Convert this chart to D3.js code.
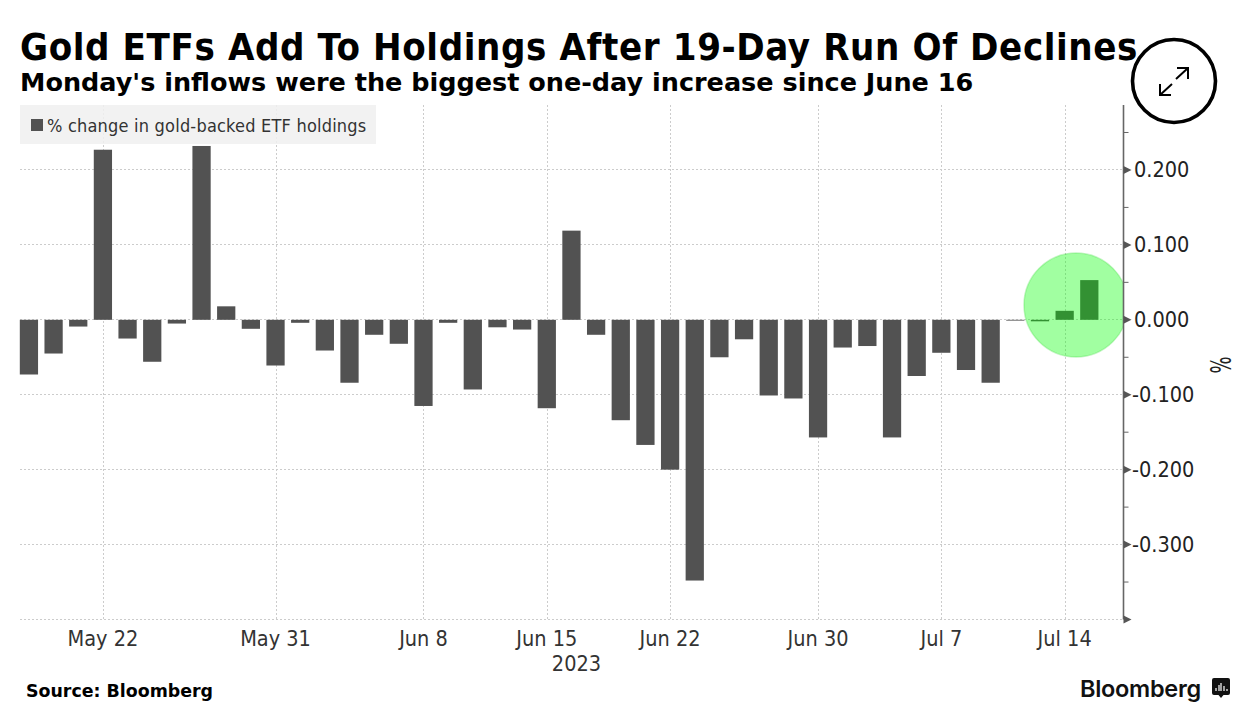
<!DOCTYPE html>
<html><head><meta charset="utf-8">
<script src="https://cdnjs.cloudflare.com/ajax/libs/d3/7.8.5/d3.min.js"></script>
<style>
html,body{margin:0;padding:0;background:#fff}
svg{display:block}
text{font-family:"DejaVu Sans",sans-serif}
text.c{font-family:"DejaVu Sans Condensed","DejaVu Sans",sans-serif;font-stretch:condensed}
text.logo{font-family:"Inter",sans-serif}
</style></head><body>
<svg id="c" width="1256" height="718"></svg>
<script>
const titleText = "Gold ETFs Add To Holdings After 19-Day Run Of Declines";
const subtitleText = "Monday's inflows were the biggest one-day increase since June 16";
const legendText = "% change in gold-backed ETF holdings";
const sourceText = "Source: Bloomberg";
const yearLabel = "2023";
const dates = ["05-17","05-18","05-19","05-22","05-23","05-24","05-25","05-26","05-29","05-30","05-31","06-01","06-02","06-05","06-06","06-07","06-08","06-09","06-12","06-13","06-14","06-15","06-16","06-19","06-20","06-21","06-22","06-23","06-26","06-27","06-28","06-29","06-30","07-03","07-04","07-05","07-06","07-07","07-10","07-11","07-12","07-13","07-14","07-17"];
const values = [-0.073,-0.045,-0.009,0.227,-0.025,-0.056,-0.005,0.232,0.018,-0.012,-0.061,-0.004,-0.041,-0.084,-0.020,-0.032,-0.115,-0.004,-0.093,-0.010,-0.013,-0.118,0.119,-0.020,-0.134,-0.167,-0.200,-0.348,-0.050,-0.026,-0.101,-0.105,-0.157,-0.037,-0.035,-0.157,-0.075,-0.044,-0.067,-0.084,-0.001,-0.002,0.012,0.053];
const xTickDates = ["05-22","05-31","06-08","06-15","06-22","06-30","07-07","07-14"];
const xTickLabels = ["May 22","May 31","Jun 8","Jun 15","Jun 22","Jun 30","Jul 7","Jul 14"];
const yMajor = [0.2,0.1,0,-0.1,-0.2,-0.3];
const yMinor = [0.25,0.15,0.05,-0.05,-0.15,-0.25,-0.35];

const svg = d3.select("#c");
const left = 16.6, right = 1123.5, top_ = 105, bottom = 619.5;
const x = d3.scaleBand().domain(dates).range([left, left + 24.66*dates.length]).paddingInner(0.26).paddingOuter(0.13);
const y = d3.scaleLinear().domain([-0.4, 0.2867]).range([bottom, top_]);

svg.append("defs").append("clipPath").attr("id","plot").append("rect")
  .attr("x",0).attr("y",0).attr("width",right).attr("height",718);

const cx = d => x(d) + x.bandwidth()/2;

// grid
const grid = svg.append("g").attr("stroke","#cccccc").attr("stroke-width",1).attr("stroke-dasharray","2 2");
grid.selectAll(".h").data([...yMajor,-0.4]).join("line")
  .attr("x1",20).attr("x2",right).attr("y1",d=>Math.round(y(d))-.5).attr("y2",d=>Math.round(y(d))-.5);
grid.selectAll(".v").data(xTickDates).join("line")
  .attr("x1",d=>Math.round(cx(d))+.5).attr("x2",d=>Math.round(cx(d))+.5).attr("y1",top_).attr("y2",bottom);

// legend
svg.append("rect").attr("x",20).attr("y",105).attr("width",356).attr("height",39).attr("fill","#f0f0f0").attr("fill-opacity",.85);
svg.append("rect").attr("x",31).attr("y",119).attr("width",12).attr("height",12).attr("fill","#525252");
svg.append("text").attr("class","c").attr("x",47).attr("y",132).attr("font-size",18).attr("letter-spacing",.2).attr("fill","#333").text(legendText);

// bars
svg.append("g").attr("fill","#525252").selectAll("rect").data(dates).join("rect")
  .attr("x",d=>x(d)).attr("width",x.bandwidth())
  .attr("y",(d,i)=>y(Math.max(0,values[i])))
  .attr("height",(d,i)=>Math.max(.8,Math.abs(y(values[i])-y(0))));

// highlight
svg.append("circle").attr("cx",1076).attr("cy",305).attr("r",52)
  .attr("fill","rgb(0,255,0)").attr("fill-opacity",.37)
  .attr("stroke","rgb(60,220,60)").attr("stroke-opacity",.3).attr("stroke-width",1.5)
  .attr("clip-path","url(#plot)");

// y axis
const axis = svg.append("g").attr("stroke","#666");
axis.append("line").attr("x1",right).attr("x2",right).attr("y1",top_).attr("y2",bottom).attr("stroke-width",1.6);
axis.selectAll(".m").data(yMinor).join("line")
  .attr("x1",right).attr("x2",right+5).attr("y1",d=>y(d)).attr("y2",d=>y(d));
axis.selectAll(".t").data([...yMajor,-0.4]).join("path").attr("fill","#555").attr("stroke","none")
  .attr("d",d=>`M${right},${y(d)-4}L${right+8},${y(d)}L${right},${y(d)+4}Z`);
svg.append("g").selectAll("text").data(yMajor).join("text").attr("class","c")
  .attr("x",d=>d<0?1132:1134).attr("y",d=>y(d)+7.5).attr("font-size",21.5).attr("fill","#222")
  .text(d=>d3.format(".3f")(d).replace("−","-"));
svg.append("text").attr("class","c").attr("transform","translate(1231,365) rotate(-90) scale(.93,1.35)").attr("text-anchor","middle")
  .attr("font-size",21.5).attr("fill","#222").text("%");

// x labels
svg.append("g").selectAll("text").data(xTickDates).join("text").attr("class","c")
  .attr("x",cx).attr("y",646).attr("text-anchor","middle").attr("font-size",21.5).attr("fill","#333")
  .text((d,i)=>xTickLabels[i]);
svg.append("text").attr("class","c").attr("x",cx("06-16")+5).attr("y",671).attr("text-anchor","middle").attr("font-size",21.5).attr("fill","#333").text(yearLabel);

// titles
svg.append("text").attr("class","c").attr("x",20).attr("y",60).attr("font-size",38).attr("font-weight",700).attr("letter-spacing",.6).attr("fill","#000").text(titleText);
svg.append("text").attr("x",20).attr("y",91).attr("font-size",25.5).attr("font-weight",700).attr("fill","#000").text(subtitleText);
svg.append("text").attr("x",26).attr("y",697).attr("font-size",17.4).attr("font-weight",700).attr("fill","#000").text(sourceText);

// expand button
const b = svg.append("g");
b.append("circle").attr("cx",1174).attr("cy",81).attr("r",41.5).attr("fill","#fff").attr("stroke","#000").attr("stroke-width",3.6);
b.append("path").attr("fill","none").attr("stroke","#000").attr("stroke-width",2)
 .attr("d","M1176,79L1188,68M1177,68L1188,68L1188,79M1172,84L1160,95M1160,84L1160,95L1171,95");

// logo
svg.append("text").attr("class","logo").attr("x",1080).attr("y",697).attr("font-size",23.5).attr("font-weight",600).attr("letter-spacing",-.3).attr("fill","#111").text("Bloomberg");
const l = svg.append("g");
l.append("path").attr("fill","#111").attr("d","M1214,678h14a2,2 0 0 1 2,2v13a2,2 0 0 1 -2,2h-4.500l-2.500,3l-2.500,-3h-4.500a2,2 0 0 1 -2,-2v-13a2,2 0 0 1 2,-2z");
l.append("path").attr("stroke","#fff").attr("stroke-width",1.200).attr("d","M1216,691v-3M1219,691v-6M1221,691v-8M1224,691v-5M1227,691v-2");
</script>
</body></html>
